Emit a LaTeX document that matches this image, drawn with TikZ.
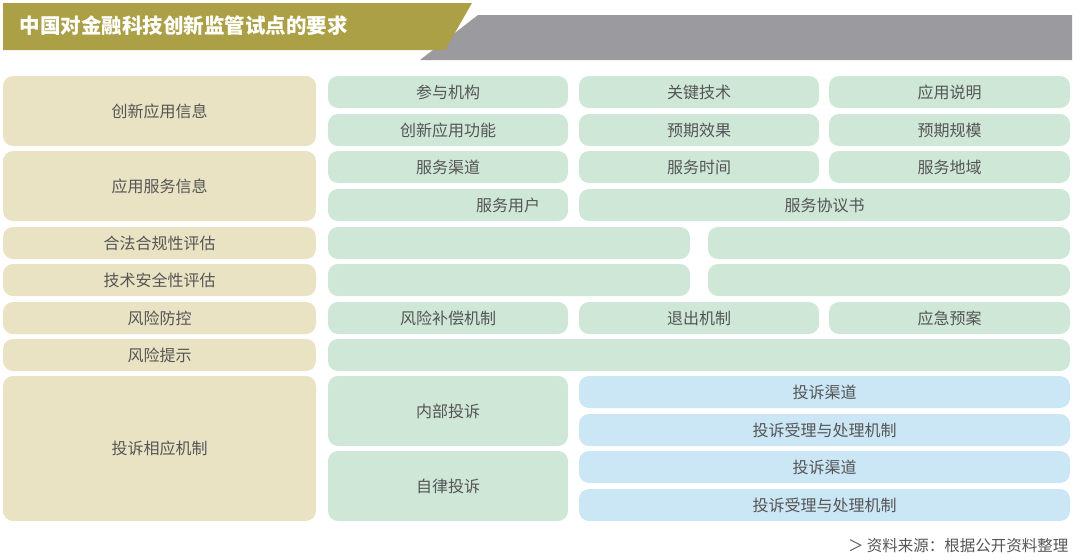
\documentclass[tikz,border=0pt]{standalone}
\usepackage{fontspec}
\setmainfont{Noto Sans CJK SC}
\definecolor{beige}{HTML}{E9E3C4}
\definecolor{mint}{HTML}{CEE7D7}
\definecolor{sky}{HTML}{CBE7F6}
\definecolor{olive}{HTML}{ABA046}
\definecolor{band}{HTML}{9B9B9F}
\definecolor{txt}{HTML}{555555}
\tikzset{cell/.style={rounded corners=10pt, inner sep=0pt, text=txt, font=\fontsize{16}{18}\selectfont}}
\newcommand{\bx}[7]{\node[cell, fill=#6, minimum width=#4pt-#2pt, minimum height=#5pt-#3pt] (#1) at ({(#2+#4)/2*1pt},{-(#3+#5)/2*1pt}) {#7};}
\begin{document}
\begin{tikzpicture}[x=1pt,y=-1pt]
\useasboundingbox (0,0) rectangle (1080,560);
\fill[band] (478,15) -- (1072,15) -- (1072,60) -- (420,60) -- cycle;
\fill[olive] (3,3) -- (472,3) -- (445,50) -- (3,50) -- cycle;
\node[anchor=west, text=white, font=\fontsize{20.5}{23}\selectfont\bfseries] (title) at (16,26) {中国对金融科技创新监管试点的要求};
\bx{l1}{3}{76}{316}{146}{beige}{创新应用信息}
\bx{l2}{3}{151}{316}{221}{beige}{应用服务信息}
\bx{l3}{3}{227}{316}{259}{beige}{合法合规性评估}
\bx{l4}{3}{264}{316}{296}{beige}{技术安全性评估}
\bx{l5}{3}{302}{316}{334}{beige}{风险防控}
\bx{l6}{3}{339}{316}{371}{beige}{风险提示}
\bx{l7}{3}{376}{316}{521}{beige}{投诉相应机制}
\bx{a1}{328}{76}{568}{108}{mint}{参与机构}
\bx{a2}{579}{76}{819}{108}{mint}{关键技术}
\bx{a3}{829}{76}{1070}{108}{mint}{应用说明}
\bx{b1}{328}{114}{568}{146}{mint}{创新应用功能}
\bx{b2}{579}{114}{819}{146}{mint}{预期效果}
\bx{b3}{829}{114}{1070}{146}{mint}{预期规模}
\bx{c1}{328}{151}{568}{183}{mint}{服务渠道}
\bx{c2}{579}{151}{819}{183}{mint}{服务时间}
\bx{c3}{829}{151}{1070}{183}{mint}{服务地域}
\bx{d1}{328}{189}{568}{221}{mint}{\hspace*{120pt}服务用户}
\bx{d2}{579}{189}{1070}{221}{mint}{服务协议书}
\bx{e1}{328}{227}{690}{259}{mint}{}
\bx{e2}{708}{227}{1070}{259}{mint}{}
\bx{f1}{328}{264}{690}{296}{mint}{}
\bx{f2}{708}{264}{1070}{296}{mint}{}
\bx{g1}{328}{302}{568}{334}{mint}{风险补偿机制}
\bx{g2}{579}{302}{819}{334}{mint}{退出机制}
\bx{g3}{829}{302}{1070}{334}{mint}{应急预案}
\bx{h1}{328}{339}{1070}{371}{mint}{}
\bx{i1}{328}{376}{568}{446}{mint}{内部投诉}
\bx{i2}{328}{451}{568}{521}{mint}{自律投诉}
\bx{j1}{579}{376}{1070}{408}{sky}{投诉渠道}
\bx{j2}{579}{414}{1070}{446}{sky}{投诉受理与处理机制}
\bx{j3}{579}{451}{1070}{483}{sky}{投诉渠道}
\bx{j4}{579}{489}{1070}{521}{sky}{投诉受理与处理机制}
\node[anchor=east, text=txt, font=\fontsize{15.5}{18}\selectfont] (src) at (1072,546) {＞ 资料来源：根据公开资料整理};
\end{tikzpicture}
\end{document}
